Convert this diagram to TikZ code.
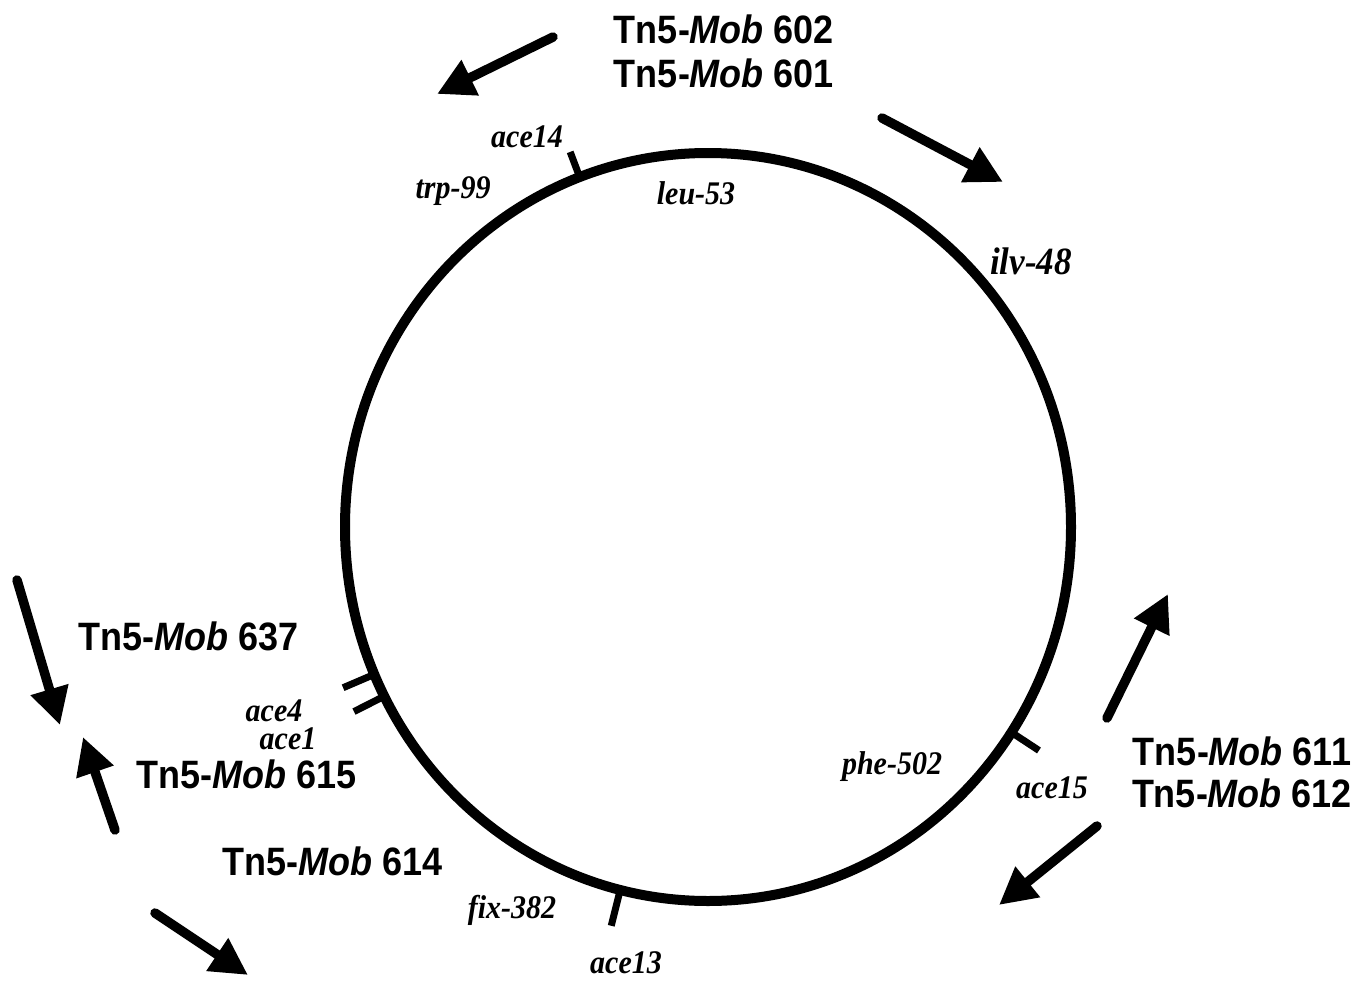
\documentclass[tikz,border=0pt]{standalone}
\usepackage{fontspec}
\setmainfont{Liberation Serif}
\newfontfamily\lsans{Liberation Sans}
\usetikzlibrary{arrows.meta,calc}
\newcommand{\tallt}[1]{\scalebox{1}[1.1]{#1}}
\begin{document}
\begin{tikzpicture}[x=1pt,y=-1pt,
  tn/.style={font=\lsans\bfseries\fontsize{36}{43}\selectfont, inner sep=0pt, text height=27pt, text depth=0pt},
  gene/.style={font=\bfseries\itshape\fontsize{30}{34}\selectfont, inner sep=0pt, text height=21pt, text depth=0pt},
  bigarrow/.style={line width=9.5pt, line cap=round, -{Triangle[length=37pt,width=37pt]}},
  tickmark/.style={line width=7pt},
]
\useasboundingbox (0,0) rectangle (1365,982);
\coordinate (c) at (708,527);
\draw[line width=10pt] (c) ellipse [x radius=363pt, y radius=374pt];

% tick marks
\draw[tickmark] ($(c)+(110.7:363pt and 374pt)$) -- ($(c)+(110.7:390pt and 401pt)$);
\draw[tickmark] ($(c)+(203.2:363pt and 374pt)$) -- ($(c)+(203.2:397pt and 408pt)$);
\draw[tickmark] ($(c)+(206.9:363pt and 374pt)$) -- ($(c)+(206.9:397pt and 408pt)$);
\draw[tickmark] ($(c)+(326.7:363pt and 374pt)$) -- ($(c)+(326.7:396pt and 407pt)$);
\draw[tickmark] ($(c)+(256:363pt and 374pt)$) -- ($(c)+(256:400pt and 411pt)$);

% gene labels
\node[gene] (ace14) at (527,137) {\tallt{ace14}};
\node[gene] (trp) at (453,188) {\tallt{trp-99}};
\node[gene] (leu) at (696,194) {\tallt{leu-53}};
\node[gene, font=\bfseries\itshape\fontsize{35}{40}\selectfont, text height=24pt] (ilv) at (1031,262) {\tallt{ilv-48}};
\node[gene] (phe) at (892,764) {\tallt{phe-502}};
\node[gene] (ace15) at (1052,788) {\tallt{ace15}};
\node[gene] (fix) at (512,908) {\tallt{fix-382}};
\node[gene] (ace13) at (626,963) {\tallt{ace13}};
\node[gene] (ace4) at (274,711) {\tallt{ace4}};
\node[gene] (ace1) at (288,739) {\tallt{ace1}};

% transposon labels
\node[tn] (t602) at (724,30) {\tallt{Tn5-\textit{Mob} 602}};
\node[tn] (t601) at (724,74) {\tallt{Tn5-\textit{Mob} 601}};
\node[tn] (t611) at (1242,752) {\tallt{Tn5-\textit{Mob} 611}};
\node[tn] (t612) at (1242,794) {\tallt{Tn5-\textit{Mob} 612}};
\node[tn] (t637) at (189,637) {\tallt{Tn5-\textit{Mob} 637}};
\node[tn] (t615) at (247,775) {\tallt{Tn5-\textit{Mob} 615}};
\node[tn] (t614) at (333,862) {\tallt{Tn5-\textit{Mob} 614}};

% arrows
\coordinate (a1s) at (553,37);  \coordinate (a1e) at (437,94);
\coordinate (a2s) at (882,118); \coordinate (a2e) at (1003,182);
\coordinate (a3s) at (1107,718); \coordinate (a3e) at (1168,594);
\coordinate (a4s) at (1097,826); \coordinate (a4e) at (999,905);
\coordinate (a5s) at (17,580);  \coordinate (a5e) at (60,725);
\coordinate (a6s) at (115,830); \coordinate (a6e) at (83,737);
\coordinate (a7s) at (155,913); \coordinate (a7e) at (248,975);
\draw[bigarrow] (a1s) -- (a1e);
\draw[bigarrow] (a2s) -- (a2e);
\draw[bigarrow] (a3s) -- (a3e);
\draw[bigarrow] (a4s) -- (a4e);
\draw[bigarrow] (a5s) -- (a5e);
\draw[bigarrow] (a6s) -- (a6e);
\draw[bigarrow] (a7s) -- (a7e);
\end{tikzpicture}
\end{document}
